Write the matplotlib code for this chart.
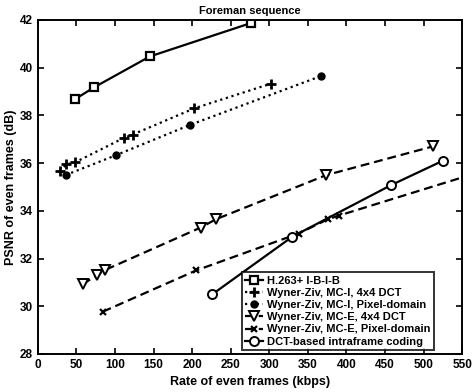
import numpy as np
import matplotlib.pyplot as plt

plt.rcParams['font.family'] = ['Liberation Sans', 'DejaVu Sans']
plt.rcParams['font.weight'] = 'bold'

# H.263+ I-B-I-B
h263_x = [48, 73, 145, 276]
h263_y = [38.68, 39.18, 40.47, 41.87]

# Wyner-Ziv, MC-I, 4x4 DCT
mci_dct_x = [28, 37, 48, 111, 123, 203, 302]
mci_dct_y = [35.67, 35.95, 36.03, 37.05, 37.2, 38.3, 39.33]

# Wyner-Ziv, MC-I, Pixel-domain
mci_pix_x = [36, 101, 197, 367]
mci_pix_y = [35.5, 36.33, 37.6, 39.65]

# Wyner-Ziv, MC-E, 4x4 DCT
mce_dct_x = [58, 76, 87, 211, 231, 374, 512]
mce_dct_y = [30.92, 31.3, 31.52, 33.3, 33.65, 35.5, 36.7]

# Wyner-Ziv, MC-E, Pixel-domain
mce_pix_x = [84, 205, 338, 376, 390, 600]
mce_pix_y = [29.77, 31.5, 33.05, 33.65, 33.8, 35.9]

# DCT-based intraframe coding
intra_x = [226, 330, 458, 525]
intra_y = [30.5, 32.92, 35.08, 36.1]

fig = plt.figure(figsize=(4.74, 3.92), dpi=100)
ax = fig.add_axes([0.080, 0.097, 0.895, 0.852])

lw = 1.6
dash = (4, 2.2)
ax.plot(h263_x, h263_y, '-', color='black', lw=lw, marker='s', ms=6,
        mfc='white', mec='black', mew=1.6, label='H.263+ I-B-I-B')
ax.plot(mci_dct_x, mci_dct_y, ':', color='black', lw=lw, marker='+', ms=7.5,
        mew=2.0, label='Wyner-Ziv, MC-I, 4x4 DCT')
ax.plot(mci_pix_x, mci_pix_y, ':', color='black', lw=lw, marker='o', ms=5,
        mfc='black', mec='black', label='Wyner-Ziv, MC-I, Pixel-domain')
ax.plot(mce_dct_x, mce_dct_y, '--', dashes=dash, color='black', lw=lw, marker='v', ms=7,
        mfc='white', mec='black', mew=1.4, label='Wyner-Ziv, MC-E, 4x4 DCT')
ax.plot(mce_pix_x, mce_pix_y, '--', dashes=dash, color='black', lw=lw, marker='x', ms=5,
        mew=1.6, label='Wyner-Ziv, MC-E, Pixel-domain')
ax.plot(intra_x, intra_y, '-', color='black', lw=lw, marker='o', ms=6.5,
        mfc='white', mec='black', mew=1.4, label='DCT-based intraframe coding')

ax.set_xlim(0, 550)
ax.set_ylim(28, 42)
ax.set_xticks(np.arange(0, 551, 50))
ax.set_yticks(np.arange(28, 43, 2))
ax.tick_params(direction='in', top=True, right=True, labelsize=8.5, length=4, width=1.2)
for s in ax.spines.values():
    s.set_linewidth(1.4)

ax.set_title('Foreman sequence', fontsize=8, fontweight='bold', pad=4)
ax.set_xlabel('Rate of even frames (kbps)', fontsize=9, fontweight='bold')
ax.set_ylabel('PSNR of even frames (dB)', fontsize=9, fontweight='bold', labelpad=2)

leg = ax.legend(loc='lower right', bbox_to_anchor=(0.934, 0.012), fontsize=8,
                frameon=True, fancybox=False, edgecolor='black', handlelength=1.6,
                borderpad=0.3, labelspacing=0.2, handletextpad=0.4, borderaxespad=0)
leg.get_frame().set_linewidth(1.4)

fig.savefig('out.png', dpi=100)
